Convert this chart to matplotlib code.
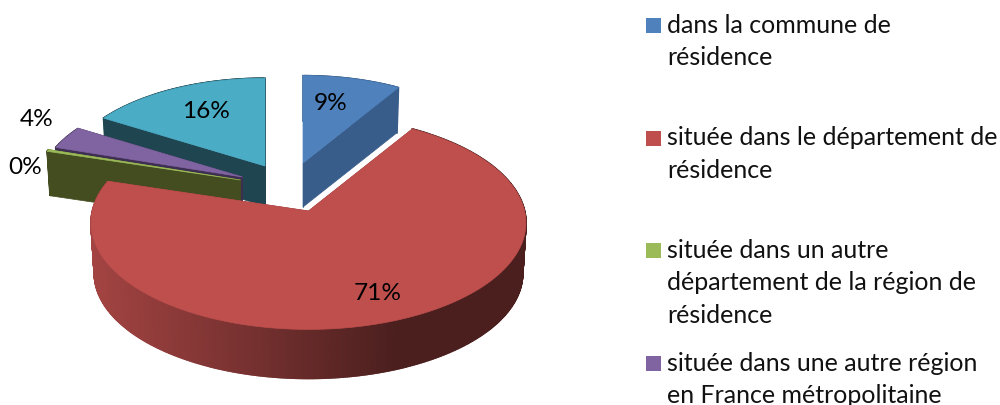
import numpy as np
import matplotlib
matplotlib.use('Agg')
import matplotlib.pyplot as plt
from matplotlib.patches import Polygon, Rectangle

plt.rcParams['font.family'] = ['Lato', 'DejaVu Sans']

categories = ['dans la commune de\nrésidence',
              'située dans le département de\nrésidence',
              'située dans un autre\ndépartement de la région de\nrésidence',
              'située dans une autre région\nen France métropolitaine']
# 5th slice is cut off from the legend in the picture
values = [8.8, 70.9, 0.3, 3.7, 16.3]

top_colors = ['#4F81BD', '#BE4F4D', '#9BBB59', '#8064A2', '#4BACC6']
wall_colors = ['#385D8A', '#8A3A38', '#434D20', '#3E2E52', '#1F4650']

# layout of the exploded slices, in pixels
apex_x = [303, 308.5, 240.5, 242.5, 265]
apex_y = [163, 211, 180, 177, 166]
scale = [0.915, 0.995, 0.96, 0.935, 0.92]
depth = [44, 50.8, 44, 44, 40]
label_xy = [(331, 103), (378, 293), (25, 168), (37, 119), (206, 112)]
legend_y = [32.7, 145, 257.7, 370.7]

R, K, P = 217.2, 105.9, 0.11
BOTTOM = 0.985
LINE_H = 32.5


def project(theta, s):
    u, v = np.sin(theta), np.cos(theta)
    f = s / (1 + P * v)
    return R * u * f, -K * v * f


def shade(hexcol, f):
    return tuple(c * f for c in matplotlib.colors.to_rgb(hexcol))


fig = plt.figure(figsize=(10, 4.05), dpi=100)
ax = fig.add_axes([0, 0, 1, 1])
ax.set_xlim(0, 1000)
ax.set_ylim(405, 0)
ax.axis('off')

edges = np.radians(np.cumsum([0] + values) / sum(values) * 360)

# back to front
for i in [4, 3, 2, 0, 1]:
    th = np.linspace(edges[i], edges[i + 1], max(int(np.degrees(edges[i + 1] - edges[i])), 4) * 2)
    dx, dy = project(th, scale[i])
    bx, by = project(th, scale[i] * BOTTOM)
    tx, ty = apex_x[i] + dx, apex_y[i] + dy
    lx, ly = apex_x[i] + bx, apex_y[i] + by + depth[i]
    ax0, ay0 = apex_x[i], apex_y[i]
    ay1 = ay0 + depth[i]

    # straight cut faces
    for k in [0, -1]:
        ax.add_patch(Polygon([(ax0, ay0), (tx[k], ty[k]), (lx[k], ly[k]), (ax0, ay1)],
                             fc=wall_colors[i], ec=wall_colors[i], lw=0.5))
    # outer rim, darker towards the right
    for k in range(len(th) - 1):
        if i == 1:
            f = np.interp(tx[k], [90, 250, 400], [0.86, 0.62, 0.39])
            col = shade(top_colors[i], f)
        else:
            col = wall_colors[i]
        ax.add_patch(Polygon([(tx[k], ty[k]), (tx[k + 1], ty[k + 1]), (lx[k + 1], ly[k + 1]), (lx[k], ly[k])],
                             fc=col, ec=col, lw=1.2))
    pts = [(ax0, ay0)] + list(zip(tx, ty))
    ax.add_patch(Polygon(pts, fc=top_colors[i], ec=top_colors[i], lw=0.5))

for v, (x, y) in zip(values, label_xy):
    ax.text(x, y, f'{v:.0f}%', ha='center', va='center', fontsize=17.6, color='black')

for name, col, y in zip(categories, top_colors, legend_y):
    ax.add_patch(Rectangle((646, y - 14.5), 15, 15, fc=col, ec='none'))
    for j, line in enumerate(name.split('\n')):
        ax.text(667, y + j * LINE_H, line, ha='left', va='baseline', fontsize=18, color='#111111')

fig.savefig('out.png', dpi=100, facecolor='white')
plt.close(fig)
